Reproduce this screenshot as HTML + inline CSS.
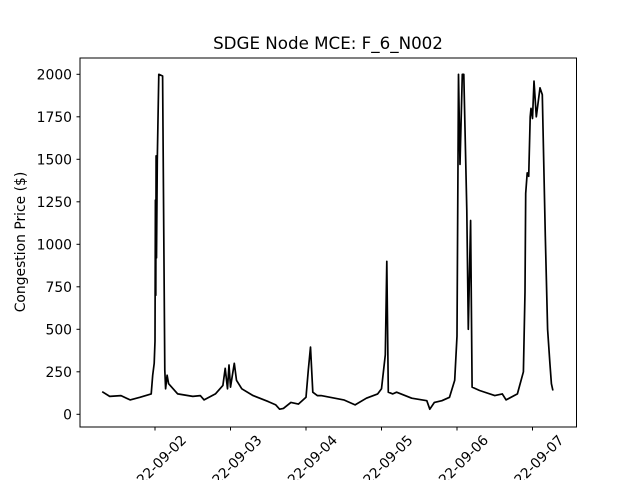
<!DOCTYPE html>
<html><head><meta charset="utf-8"><style>
html,body{margin:0;padding:0;background:#fff;}
svg{display:block;font-family:"DejaVu Sans","Liberation Sans",sans-serif;}
</style></head><body>
<svg id="chart" width="640" height="480" viewBox="0 0 640 480" xmlns="http://www.w3.org/2000/svg">
<rect width="640" height="480" fill="#fff"/>
<text x="328" y="49" text-anchor="middle" font-size="16.7">SDGE Node MCE: F_6_N002</text>
<text transform="translate(25,242) rotate(-90)" text-anchor="middle" font-size="13.9">Congestion Price ($)</text>
<g id="yticks"></g>
<g id="xticks"></g>
<path id="line" fill="none" stroke="#000" stroke-width="1.7" stroke-linejoin="round"/>
<rect x="80" y="58" width="496.5" height="369" fill="none" stroke="#000" stroke-width="1"/>
</svg>
<script>
// time in days since 2022-09-01 00:00
const times = [0.3,0.4,0.55,0.67,0.8,0.95,0.97,0.99,1.0,1.005,1.01,1.015,1.02,1.03,1.05,1.1,1.13,1.14,1.16,1.18,1.3,1.5,1.6,1.65,1.8,1.9,1.93,1.96,1.98,2.0,2.05,2.08,2.15,2.3,2.5,2.6,2.65,2.7,2.8,2.9,3.0,3.03,3.06,3.09,3.15,3.2,3.5,3.65,3.8,3.95,4.0,4.05,4.07,4.09,4.15,4.2,4.4,4.6,4.64,4.7,4.8,4.9,4.97,5.0,5.02,5.04,5.07,5.09,5.13,5.15,5.18,5.2,5.3,5.5,5.6,5.65,5.8,5.83,5.88,5.9,5.91,5.93,5.95,5.97,5.98,6.0,6.02,6.05,6.1,6.13,6.17,6.2,6.23,6.25,6.27];
const prices = [133,105,110,85,100,120,230,300,430,1260,700,1520,920,1500,2000,1990,260,150,230,180,120,105,110,85,120,170,270,150,290,160,300,200,150,110,75,55,30,35,70,60,100,260,395,130,110,110,85,55,95,120,150,350,900,130,120,130,95,80,30,70,80,100,200,460,2000,1470,2000,2000,1200,500,1140,160,140,110,120,85,120,170,250,720,1300,1420,1400,1750,1800,1740,1960,1750,1920,1880,1050,500,300,180,140];
const yTicks = [0,250,500,750,1000,1250,1500,1750,2000];
const xTickDays = [1,2,3,4,5,6];
const xTickLabels = ["2022-09-02","2022-09-03","2022-09-04","2022-09-05","2022-09-06","2022-09-07"];

const xScale = d => 79.5 + d*75.5;
const yScale = v => 414.3 - v*0.17;
const NS = "http://www.w3.org/2000/svg";

const yg = document.getElementById('yticks');
yTicks.forEach(t=>{
  const y = yScale(t);
  const l = document.createElementNS(NS,'line');
  
  
  l.setAttribute('x1',76.5);l.setAttribute('x2',80);l.setAttribute('y1',y);l.setAttribute('y2',y);
  l.setAttribute('stroke','#000');
  yg.appendChild(l);
  const tx = document.createElementNS(NS,'text');
  
  
  tx.setAttribute('x',72);tx.setAttribute('y',y+5);
  tx.setAttribute('text-anchor','end');tx.setAttribute('font-size','13.9');
  tx.textContent = t;
  yg.appendChild(tx);
});
const xg = document.getElementById('xticks');
xTickDays.forEach((d,i)=>{
  const x = xScale(d);
  const l = document.createElementNS(NS,'line');
  
  
  l.setAttribute('x1',x);l.setAttribute('x2',x);l.setAttribute('y1',427);l.setAttribute('y2',430.5);
  l.setAttribute('stroke','#000');
  xg.appendChild(l);
  const tx = document.createElementNS(NS,'text');
  
  
  tx.setAttribute('transform','translate('+x+',466) rotate(-45)');
  tx.setAttribute('text-anchor','middle');tx.setAttribute('font-size','13.9');
  tx.setAttribute('dy','5');
  tx.textContent = xTickLabels[i];
  xg.appendChild(tx);
});
let d = '';
times.forEach((t,i)=>{ d += (i?'L':'M') + xScale(t).toFixed(1) + ',' + yScale(prices[i]).toFixed(1); });
document.getElementById('line').setAttribute('d', d);
</script>
</body></html>
